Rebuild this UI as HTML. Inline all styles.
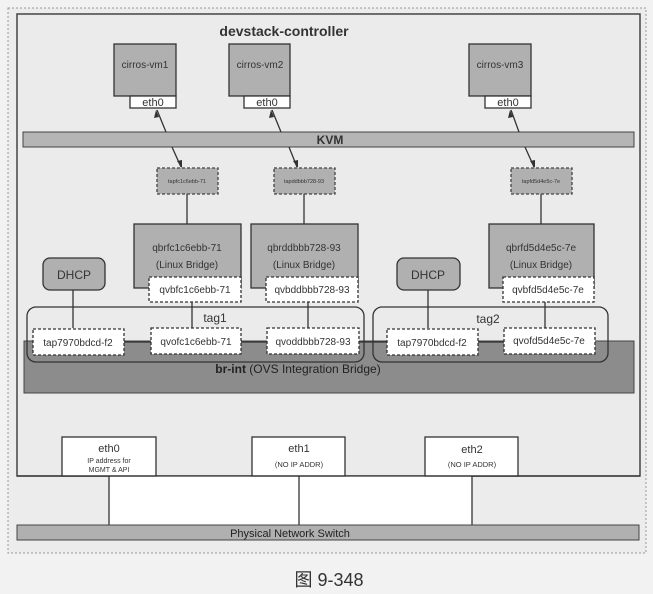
<!DOCTYPE html>
<html><head><style>body{margin:0;background:#efefef}svg{display:block}text{font-family:"Liberation Sans","Noto Sans CJK SC",sans-serif}</style></head>
<body>
<svg width="653" height="594" viewBox="0 0 653 594" xmlns="http://www.w3.org/2000/svg">
<rect x="0" y="0" width="653" height="594" fill="#f2f2f2"/>
<rect x="8" y="8" width="638" height="545" fill="#ececec" stroke="#999" stroke-dasharray="2,2"/>
<rect x="17" y="14" width="623" height="462" fill="#ebebeb" stroke="#444" stroke-width="1.5"/>
<text x="284" y="36" font-size="14" font-weight="bold" text-anchor="middle" fill="#333">devstack-controller</text>
<g stroke="#333" stroke-width="1.3" fill="#b0b0b0">
<rect x="114" y="44" width="62" height="52"/><rect x="229" y="44" width="61" height="52"/><rect x="469" y="44" width="62" height="52"/>
</g>
<g stroke="#333" stroke-width="1.3" fill="#fff">
<rect x="130" y="96" width="46" height="12"/><rect x="244" y="96" width="46" height="12"/><rect x="485" y="96" width="46" height="12"/>
</g>
<g font-size="10" fill="#333" text-anchor="middle">
<text x="145" y="68">cirros-vm1</text><text x="260" y="68">cirros-vm2</text><text x="500" y="68">cirros-vm3</text>
<text x="153" y="106" font-size="11">eth0</text><text x="267" y="106" font-size="11">eth0</text><text x="508" y="106" font-size="11">eth0</text>
</g>
<rect x="23" y="132" width="611" height="15" fill="#b5b5b5" stroke="#444"/>
<text x="330" y="144" font-size="12" font-weight="bold" text-anchor="middle" fill="#333">KVM</text>
<g stroke="#333" stroke-width="1.3">
<line x1="157" y1="110" x2="166" y2="132"/><line x1="272" y1="110" x2="281" y2="132"/><line x1="511" y1="110" x2="519" y2="132"/>
<line x1="172" y1="147" x2="181" y2="167"/><line x1="289" y1="147" x2="297" y2="167"/><line x1="525" y1="147" x2="534" y2="167"/>
<line x1="187" y1="194" x2="187" y2="224"/><line x1="304" y1="194" x2="304" y2="224"/><line x1="541" y1="194" x2="541" y2="224"/>
</g>
<g fill="#333">
<polygon points="156,110 154,118 159,117"/><polygon points="271,110 269,118 274,117"/><polygon points="510,110 508,118 513,117"/>
<polygon points="182,168 177,161 182,160"/><polygon points="298,168 293,161 298,160"/><polygon points="535,168 530,161 535,160"/>
</g>
<g fill="#b0b0b0" stroke="#444" stroke-dasharray="3,2" stroke-width="1.3">
<rect x="157" y="168" width="61" height="26"/><rect x="274" y="168" width="61" height="26"/><rect x="511" y="168" width="61" height="26"/>
</g>
<g font-size="5.5" fill="#333" text-anchor="middle">
<text x="187" y="183">tapfc1c6ebb-71</text><text x="304" y="183">tapddbbb728-93</text><text x="541" y="183">tapfd5d4e5c-7e</text>
</g>
<g fill="#b0b0b0" stroke="#333" stroke-width="1.3">
<rect x="134" y="224" width="107" height="64"/><rect x="251" y="224" width="107" height="64"/><rect x="489" y="224" width="105" height="64"/>
<rect x="43" y="258" width="62" height="32" rx="7"/><rect x="397" y="258" width="63" height="32" rx="7"/>
</g>
<g font-size="10" fill="#333" text-anchor="middle">
<text x="187" y="251">qbrfc1c6ebb-71</text><text x="187" y="268">(Linux Bridge)</text>
<text x="304" y="251">qbrddbbb728-93</text><text x="304" y="268">(Linux Bridge)</text>
<text x="541" y="251">qbrfd5d4e5c-7e</text><text x="541" y="268">(Linux Bridge)</text>
<text x="74" y="279" font-size="12">DHCP</text><text x="428" y="279" font-size="12">DHCP</text>
</g>
<rect x="24" y="341" width="610" height="52" fill="#8c8c8c" stroke="#444"/>
<g fill="none" stroke="#333" stroke-width="1.3">
<rect x="27" y="307" width="337" height="55" rx="9"/><rect x="373" y="307" width="235" height="55" rx="9"/>
</g>
<g stroke="#333" stroke-width="1.3">
<line x1="73" y1="290" x2="73" y2="328"/><line x1="428" y1="290" x2="428" y2="328"/>
<line x1="192" y1="302" x2="192" y2="328"/><line x1="308" y1="302" x2="308" y2="328"/><line x1="545" y1="302" x2="545" y2="328"/>
<line x1="124" y1="342" x2="151" y2="342"/><line x1="241" y1="342" x2="267" y2="342"/><line x1="359" y1="342" x2="387" y2="342"/><line x1="478" y1="342" x2="504" y2="342"/>
</g>
<g fill="#fff" stroke="#333" stroke-dasharray="3,2" stroke-width="1.3">
<rect x="149" y="277" width="92" height="25"/><rect x="266" y="277" width="92" height="25"/><rect x="503" y="277" width="91" height="25"/>
<rect x="33" y="329" width="91" height="26"/><rect x="151" y="328" width="90" height="26"/><rect x="267" y="328" width="92" height="26"/>
<rect x="387" y="329" width="91" height="26"/><rect x="504" y="328" width="91" height="26"/>
</g>
<g font-size="10" fill="#333" text-anchor="middle">
<text x="195" y="293">qvbfc1c6ebb-71</text><text x="312" y="293">qvbddbbb728-93</text><text x="548" y="293">qvbfd5d4e5c-7e</text>
<text x="78" y="346">tap7970bdcd-f2</text><text x="196" y="345">qvofc1c6ebb-71</text><text x="313" y="345">qvoddbbb728-93</text>
<text x="432" y="346">tap7970bdcd-f2</text><text x="549" y="344">qvofd5d4e5c-7e</text>
<text x="215" y="322" font-size="12">tag1</text><text x="488" y="323" font-size="12">tag2</text>
</g>
<text x="298" y="373" font-size="12" text-anchor="middle" fill="#222"><tspan font-weight="bold">br-int</tspan> (OVS Integration Bridge)</text>
<rect x="109" y="476" width="363" height="49" fill="#fff"/>
<g fill="#fff" stroke="#333" stroke-width="1.3">
<rect x="62" y="437" width="94" height="39"/><rect x="252" y="437" width="93" height="39"/><rect x="425" y="437" width="93" height="39"/>
</g>
<g fill="#333" text-anchor="middle">
<text x="109" y="452" font-size="11">eth0</text><text x="109" y="463" font-size="7">IP address for</text><text x="109" y="472" font-size="7">MGMT &amp; API</text>
<text x="299" y="452" font-size="11">eth1</text><text x="299" y="467" font-size="7.5">(NO IP ADDR)</text>
<text x="472" y="453" font-size="11">eth2</text><text x="472" y="467" font-size="7.5">(NO IP ADDR)</text>
</g>
<g stroke="#333" stroke-width="1.3">
<line x1="17" y1="476" x2="640" y2="476"/>
<line x1="109" y1="476" x2="109" y2="525"/><line x1="299" y1="476" x2="299" y2="525"/><line x1="472" y1="476" x2="472" y2="525"/>
</g>
<rect x="17" y="525" width="622" height="15" fill="#b0b0b0" stroke="#444"/>
<text x="290" y="537" font-size="11" text-anchor="middle" fill="#222">Physical Network Switch</text>
<text x="329" y="586" font-size="18" text-anchor="middle" fill="#333" font-family="Liberation Serif,Noto Serif CJK SC,serif">图 9-348</text>
</svg>
</body></html>
